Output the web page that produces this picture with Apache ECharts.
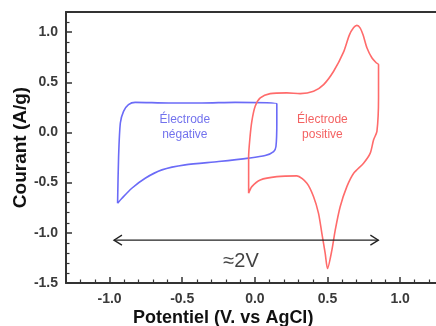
<!DOCTYPE html>
<html>
<head>
<meta charset="utf-8">
<script src="https://cdn.jsdelivr.net/npm/echarts@6/dist/echarts.min.js"></script>
<style>
html,body{margin:0;padding:0;background:#fff;}
#chart{width:436px;height:326px;}
</style>
</head>
<body>
<div id="chart"></div>
<script>
// Negative electrode (blue) cyclic voltammogram
var negX = [-0.945, -0.938, -0.926, -0.904, -0.870, -0.824, -0.594, -0.365, -0.136, 0.151, 0.151, 0.145, 0.129, 0.071, -0.043, -0.250, -0.480, -0.640, -0.755, -0.847, -0.915, -0.945];
var negY = [-0.706, -0.240, 0.094, 0.210, 0.277, 0.300, 0.294, 0.294, 0.300, 0.287, 0.094, -0.140, -0.190, -0.230, -0.256, -0.290, -0.323, -0.373, -0.456, -0.556, -0.656, -0.706];
// Positive electrode (red) cyclic voltammogram
var posX = [-0.043, -0.043, -0.035, -0.021, 0.002, 0.037, 0.105, 0.220, 0.312, 0.404, 0.473, 0.542, 0.610, 0.650, 0.680, 0.702, 0.725, 0.745, 0.771, 0.805, 0.835, 0.851, 0.851, 0.840, 0.817, 0.794, 0.748, 0.680, 0.633, 0.587, 0.553, 0.530, 0.500, 0.484, 0.461, 0.438, 0.404, 0.358, 0.289, 0.151, 0.037, -0.021, -0.043];
var posY = [-0.606, -0.240, -0.070, 0.110, 0.260, 0.344, 0.387, 0.394, 0.387, 0.410, 0.477, 0.610, 0.800, 0.970, 1.045, 1.067, 1.040, 0.970, 0.844, 0.744, 0.694, 0.677, 0.344, 0.010, -0.073, -0.206, -0.306, -0.406, -0.540, -0.740, -0.973, -1.173, -1.356, -1.206, -1.006, -0.806, -0.640, -0.506, -0.433, -0.440, -0.473, -0.540, -0.606];
// Window arrow (≈2V)
var arrowX = [-0.97, 0.85];
var arrowY = -1.073;
// Annotations
var annNeg = {x: -0.482, y: 0.057, text: 'Électrode\nnégative'};
var annPos = {x: 0.465, y: 0.052, text: 'Électrode\npositive'};
var annWin = {x: -0.095, y: -1.29, text: '≈2V'};
// Axis ranges
var xMin = -1.3, xMax = 1.25;
var yMin = -1.5, yMax = 1.2, yStep = 0.5;

function zip(a, b) { return a.map(function (v, i) { return [v, b[i]]; }); }
function majorFmt(v) {
  return Math.abs(v * 2 - Math.round(v * 2)) < 1e-6 ? v.toFixed(1) : '';
}
var FONT = "'Liberation Sans', Arial, sans-serif";
var AXC = '#333';

var chart = echarts.init(document.getElementById('chart'), null, {renderer: 'canvas'});
var labelStyle = {fontFamily: FONT, fontWeight: 'bold', fontSize: 14, color: '#3a3a3a'};

function annSeries(a, color, size) {
  return {
    type: 'scatter', symbolSize: 0, silent: true, z: 5,
    data: [[a.x, a.y]],
    label: {show: true, position: 'inside', formatter: a.text,
      fontFamily: FONT, fontSize: size, color: color, lineHeight: size + 3}
  };
}

chart.setOption({
  animation: false,
  backgroundColor: '#fff',
  grid: {left: 66, top: 12, width: 370.5, height: 271, outerBoundsMode: 'none', containLabel: false},
  xAxis: [{
    type: 'value', min: xMin, max: xMax, splitNumber: 5,
    axisLine: {show: true, onZero: false, lineStyle: {color: AXC, width: 2}},
    axisTick: {show: true, inside: true, length: 6, lineStyle: {color: AXC, width: 1.5}},
    minorTick: {show: true, splitNumber: 5, length: 3.5, lineStyle: {color: AXC, width: 1.2}},
    axisLabel: Object.assign({margin: 9, formatter: majorFmt}, labelStyle),
    splitLine: {show: false},
    minorSplitLine: {show: false}
  }, {
    type: 'value', position: 'top', min: xMin, max: xMax,
    axisLine: {show: true, onZero: false, lineStyle: {color: AXC, width: 2}},
    axisTick: {show: false}, axisLabel: {show: false}, splitLine: {show: false}
  }],
  yAxis: {
    type: 'value', min: yMin, max: yMax, interval: yStep,
    name: 'Courant (A/g)', nameLocation: 'middle', nameGap: 36, nameMoveOverlap: false,
    nameTextStyle: {fontFamily: FONT, fontWeight: 'bold', fontSize: 19, color: '#111'},
    axisLine: {show: true, onZero: false, lineStyle: {color: AXC, width: 2}},
    axisTick: {show: true, inside: true, length: 6, lineStyle: {color: AXC, width: 1.5}},
    minorTick: {show: true, splitNumber: 5, length: 3.5, lineStyle: {color: AXC, width: 1.2}},
    axisLabel: Object.assign({margin: 8, formatter: majorFmt}, labelStyle),
    splitLine: {show: false}
  },
  graphic: [{
    type: 'text', left: 133, top: 309, silent: true,
    style: {text: 'Potentiel (V. vs AgCl)', font: 'bold 18px ' + FONT, fill: '#111'}
  }],
  series: [{
    type: 'line', data: zip(negX, negY), showSymbol: false, smooth: 0.25,
    lineStyle: {color: '#6b6bf7', width: 1.6}, silent: true
  }, {
    type: 'line', data: zip(posX, posY), showSymbol: false, smooth: 0.25,
    lineStyle: {color: '#ff6b6b', width: 1.6}, silent: true
  }, {
    type: 'custom', silent: true, z: 6,
    data: [[arrowX[0], arrowX[1], arrowY]],
    encode: {x: [0, 1], y: 2},
    renderItem: function (params, api) {
      var p0 = api.coord([api.value(0), api.value(2)]);
      var p1 = api.coord([api.value(1), api.value(2)]);
      var st = {stroke: '#222', lineWidth: 1.3, fill: null};
      return {type: 'group', children: [
        {type: 'line', shape: {x1: p0[0], y1: p0[1], x2: p1[0], y2: p1[1]}, style: st},
        {type: 'polyline', shape: {points: [[p0[0] + 8, p0[1] - 5], [p0[0], p0[1]], [p0[0] + 8, p0[1] + 5]]}, style: st},
        {type: 'polyline', shape: {points: [[p1[0] - 8, p1[1] - 5], [p1[0], p1[1]], [p1[0] - 8, p1[1] + 5]]}, style: st}
      ]};
    }
  },
  annSeries(annNeg, '#4f4fe8', 12),
  annSeries(annPos, '#f03a3a', 12),
  annSeries(annWin, '#111', 20)
  ]
});
</script>
</body>
</html>
